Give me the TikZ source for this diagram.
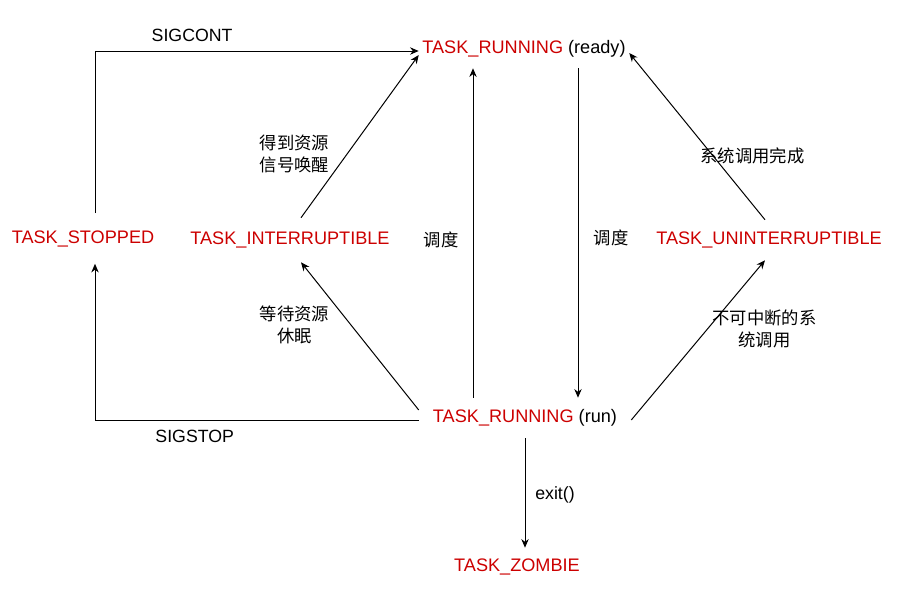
\documentclass[tikz,border=0pt]{standalone}
\usepackage{fontspec}
\setmainfont{Liberation Sans}
\newfontfamily\cjk{Noto Sans CJK SC}
\usepackage{xcolor}
\usepackage{tikz}
\usetikzlibrary{positioning, arrows.meta}
\definecolor{taskred}{HTML}{CC0000}

\begin{document}
\begin{tikzpicture}[x=0.75pt, y=-0.75pt,
    state/.style={text=taskred, inner sep=0pt, font=\fontsize{13.6}{16}\selectfont},
    lbl/.style={align=center, inner sep=0pt, font=\fontsize{13.3}{16.5}\selectfont},
    cn/.style={lbl, font=\cjk\fontsize{13}{16.5}\selectfont},
    trans/.style={draw, line width=0.75pt, -{Stealth[length=6.5pt, width=5.5pt]}}]
  \useasboundingbox (0,0) rectangle (901,601);

    % process states
    \node[state, minimum width=157.5pt, minimum height=28.5pt] (ready) at (524,49)
      {TASK\_RUNNING \textcolor{black}{(ready)}};
    \node[state, minimum width=159pt, minimum height=30pt] (run) at (525,418)
      {TASK\_RUNNING \textcolor{black}{(run)}};
    \node[state, minimum height=37.5pt] (stop) at (83,238.5) {TASK\_STOPPED};
    \node[state, minimum height=33pt] (intr) at (290,240) {TASK\_INTERRUPTIBLE};
    \node[state, minimum height=30pt] (unint) at (769,240) {TASK\_UNINTERRUPTIBLE};
    \node[state, minimum height=28.5pt] (zombie) at (517,567) {TASK\_ZOMBIE};

    % transitions
    \draw[trans] ([xshift=9pt]stop.north) |- ([yshift=-1.5pt]ready.west)
      node[lbl, pos=0.65, yshift=12pt] {SIGCONT};
    \draw[trans] ([yshift=-1.5pt]run.west) -| ([xshift=9pt]stop.south)
      node[lbl, pos=0.346, yshift=-12pt] {SIGSTOP};
    \draw[trans] ([xshift=8.25pt]intr.north) -- ([yshift=-4.5pt]ready.west)
      node[cn, pos=0.393, xshift=-39.5pt] {得到资源\\信号唤醒};
    \draw[trans] ([yshift=6pt]run.west) -- ([xshift=8.25pt]intr.south)
      node[cn, pos=0.574, xshift=-42.5pt] {等待资源\\休眠};
    \draw[trans] ([xshift=-39pt]run.north) -- ([xshift=-38.25pt]ready.south)
      node[cn, pos=0.479, xshift=-24pt] {调度};
    \draw[trans] ([xshift=40.5pt]ready.south) -- ([xshift=39.75pt]run.north)
      node[cn, pos=0.515, xshift=24.75pt] {调度};
    \draw[trans] ([xshift=-3pt]unint.north) -- ([yshift=-3pt]ready.east)
      node[cn, pos=0.383, xshift=29.7pt] {系统调用完成};
    \draw[trans] ([yshift=-1.5pt]run.east) -- ([xshift=-3pt]unint.south)
      node[cn, pos=0.57, xshift=42.7pt] {不可中断的系\\统调用};
    \draw[trans] (run.south) -- ([xshift=6pt]zombie.north)
      node[lbl, pos=0.52, xshift=22.5pt] {exit()};
  \end{tikzpicture}
\end{document}
